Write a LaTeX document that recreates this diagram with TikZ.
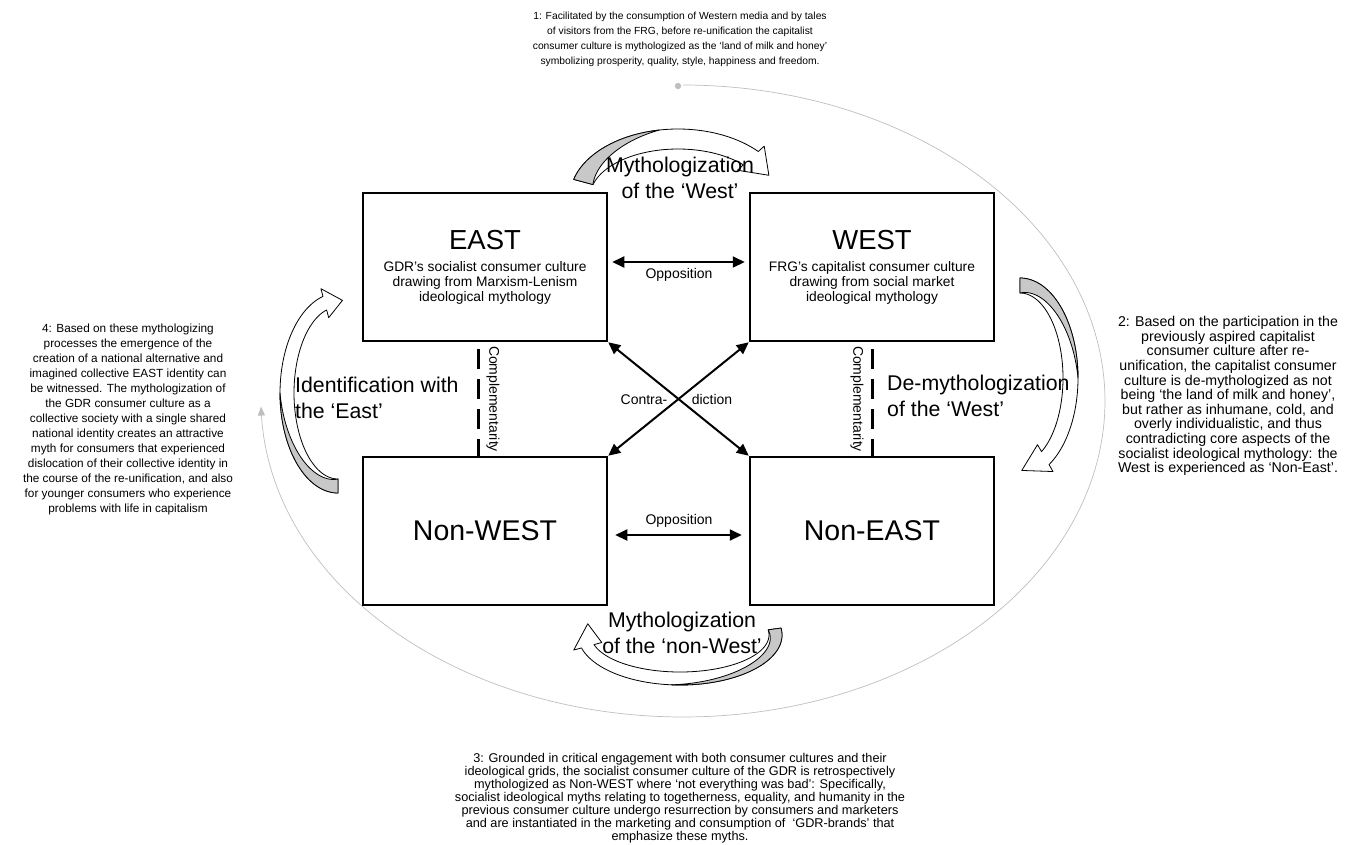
\documentclass[tikz,border=0pt]{standalone}
\usepackage{fontspec}
\setmainfont{Liberation Sans}
\usetikzlibrary{arrows.meta}

\definecolor{bandgray}{RGB}{200,200,200}
\definecolor{orbitgray}{RGB}{190,190,190}

% Curved block arrow drawn as an elliptic band with a head.
% #1,#2 centre; #3,#4 outer radii; #5 band width; #6 tail angle;
% #7 angle where the head starts; #8 angle of the tip; #9 end of the grey part
\newcommand{\bandarrow}[9]{%
  \pgfmathsetmacro{\rxi}{#3-#5}\pgfmathsetmacro{\ryi}{#4-#5}%
  \pgfmathsetmacro{\rxm}{#3-#5/2}\pgfmathsetmacro{\rym}{#4-#5/2}%
  \pgfmathsetmacro{\rxo}{#3+8}\pgfmathsetmacro{\ryo}{#4+8}%
  \pgfmathsetmacro{\rxn}{#3-#5-8}\pgfmathsetmacro{\ryn}{#4-#5-8}%
  \draw[bandline, fill=white]
    plot[domain=#6:#7, samples=60] ({#1+#3*cos(\x)},{#2+#4*sin(\x)})
    -- ({#1+\rxo*cos(#7)},{#2+\ryo*sin(#7)})
    -- ({#1+\rxm*cos(#8)},{#2+\rym*sin(#8)})
    -- ({#1+\rxn*cos(#7)},{#2+\ryn*sin(#7)})
    -- plot[domain=#7:#6, samples=60] ({#1+\rxi*cos(\x)},{#2+\ryi*sin(\x)})
    -- cycle;
  \draw[bandline, fill=bandgray]
    plot[domain=#6:#9, samples=40] ({#1+#3*cos(\x)},{#2+#4*sin(\x)})
    -- plot[domain=#9:#6, samples=40]
       ({#1+(#3-#5*(\x-(#9))/((#6)-(#9)))*cos(\x)},{#2+(#4-#5*(\x-(#9))/((#6)-(#9)))*sin(\x)})
    -- cycle;
}

\tikzset{
  quad/.style={draw=black, line width=2.5pt, minimum width=244pt, minimum height=148pt, inner sep=0pt},
  bigtitle/.style={font=\fontsize{27.5}{30}\selectfont, inner sep=0pt},
  subtitle/.style={font=\fontsize{13.8}{15}\selectfont, align=center, inner sep=0pt},
  smalllabel/.style={font=\fontsize{14}{15}\selectfont, inner sep=0pt},
  midlabel/.style={font=\fontsize{21.3}{26.5}\selectfont, inner sep=0pt},
  sidetext/.style={align=center, inner sep=0pt},
  relation/.style={line width=2pt, {Triangle[length=12pt,width=11pt]}-{Triangle[length=12pt,width=11pt]}},
  complement/.style={line width=3pt, dash pattern=on 20pt off 10pt, dash phase=23pt},
  bandline/.style={draw=black, line width=0.8pt, line join=round},
  orbit/.style={draw=orbitgray, line width=0.7pt}
}

\begin{document}
\begin{tikzpicture}[x=1pt, y=-1pt]
\useasboundingbox (0,0) rectangle (1348,844);

% outer cycle through the four phases
\draw[orbit, -{Triangle[length=9pt,width=7pt]}]
  plot[domain=-90:179, samples=240] ({683+422*cos(\x)},{401+316*sin(\x)});
\fill[orbitgray] (678,86) circle (3.2pt);

% the four cultures
\node[quad] (east) at (485,267) {};
\node[quad] (west) at (872,267) {};
\node[quad, font=\fontsize{28.5}{30}\selectfont] (nonwest) at (485,531) {Non-WEST};
\node[quad, font=\fontsize{28.5}{30}\selectfont] (noneast) at (872,531) {Non-EAST};

\node[bigtitle] (eastT) at (485,240) {EAST};
\node[bigtitle] (westT) at (872,240) {WEST};
\node[subtitle] (eastS) at (485,283) {GDR’s socialist consumer culture\\drawing from Marxism-Lenism\\ideological mythology};
\node[subtitle] (westS) at (872,283) {FRG’s capitalist consumer culture\\drawing from social market\\ideological mythology};

% relations between the cultures
\draw[relation, shorten <=4pt, shorten >=4pt] ([yshift=5pt]east.east) -- ([yshift=5pt]west.west);
\node[smalllabel] (opp1) at (679,274.5) {Opposition};
\draw[relation, shorten <=7pt, shorten >=7pt] ([yshift=-4pt]nonwest.east) -- ([yshift=-4pt]noneast.west);
\node[smalllabel] (opp2) at (679,520.5) {Opposition};

\draw[relation] (east.south east) -- (noneast.north west);
\draw[relation] (west.south west) -- (nonwest.north east);
\node[smalllabel] (contra) at (644,399.5) {Contra-};
\node[smalllabel] (dict) at (712,399.5) {diction};

\draw[complement] ([xshift=-7pt]east.south) -- ([xshift=-7pt]nonwest.north);
\draw[complement] (west.south) -- (noneast.north);
\node[smalllabel, rotate=-90] (compL) at (493,399) {Complementarity};
\node[smalllabel, rotate=-90] (compR) at (857,399) {Complementarity};

% curved process arrows
\bandarrow{678}{197}{108}{68}{20}{-165}{-42}{-22}{-100}
\bandarrow{1020}{378}{58}{100}{15}{-90}{60}{88}{0}
\bandarrow{680}{635}{102}{50}{13}{-8}{165}{195}{95}
\bandarrow{338}{393}{58}{100}{14}{90}{255}{275}{180}

\node[midlabel, align=center] (mythW) at (680,178) {Mythologization\\of the ‘West’};
\node[midlabel, align=left, anchor=west] (demythW) at (887,396) {De-mythologization\\of the ‘West’};
\node[midlabel, align=center] (mythNW) at (682,633) {Mythologization\\of the ‘non-West’};
\node[midlabel, align=left, anchor=west] (identE) at (295,398) {Identification with\\the ‘East’};

% explanations of the four phases
\node[sidetext, font=\fontsize{10.3}{15}\selectfont] (phase1) at (680,39) {1: Facilitated by the consumption of Western media and by tales\\of visitors from the FRG, before re-unification the capitalist\\consumer culture is mythologized as the ‘land of milk and honey’\\symbolizing prosperity, quality, style, happiness and freedom.};

\node[sidetext, font=\fontsize{14.2}{14.6}\selectfont] (phase2) at (1228,396) {2: Based on the participation in the\\previously aspired capitalist\\consumer culture after re-\\unification, the capitalist consumer\\culture is de-mythologized as not\\being ‘the land of milk and honey’,\\but rather as inhumane, cold, and\\overly individualistic, and thus\\contradicting core aspects of the\\socialist ideological mythology: the\\West is experienced as ‘Non-East’.};

\node[sidetext, font=\fontsize{12.7}{13}\selectfont] (phase3) at (680,798) {3: Grounded in critical engagement with both consumer cultures and their\\ideological grids, the socialist consumer culture of the GDR is retrospectively\\mythologized as Non-WEST where ‘not everything was bad’: Specifically,\\socialist ideological myths relating to togetherness, equality, and humanity in the\\previous consumer culture undergo resurrection by consumers and marketers\\and are instantiated in the marketing and consumption of \ ‘GDR-brands’ that\\emphasize these myths.};

\node[sidetext, font=\fontsize{11.8}{15}\selectfont] (phase4) at (128,419) {4: Based on these mythologizing\\processes the emergence of the\\creation of a national alternative and\\imagined collective EAST identity can\\be witnessed. The mythologization of\\the GDR consumer culture as a\\collective society with a single shared\\national identity creates an attractive\\myth for consumers that experienced\\dislocation of their collective identity in\\the course of the re-unification, and also\\for younger consumers who experience\\problems with life in capitalism};
\end{tikzpicture}
\end{document}
